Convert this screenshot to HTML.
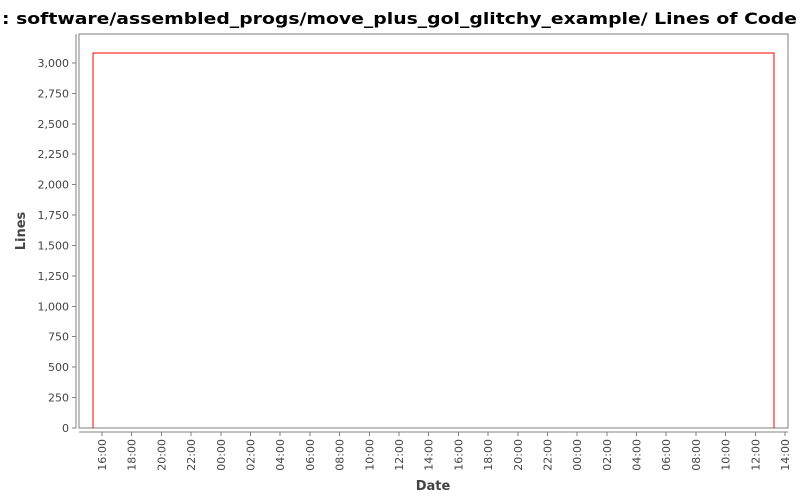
<!DOCTYPE html>
<html><head><meta charset="utf-8"><style>
html,body{margin:0;padding:0;background:#fff;width:800px;height:500px;overflow:hidden}
svg{display:block}
text{font-family:"DejaVu Sans","Liberation Sans",sans-serif}
line,rect,path{shape-rendering:crispEdges}
</style></head><body>
<svg id="chart" width="800" height="500">
<text x="2" y="24" font-size="16" font-weight="bold" textLength="795" lengthAdjust="spacingAndGlyphs" fill="#000">: software/assembled_progs/move_plus_gol_glitchy_example/ Lines of Code</text>
<rect x="79" y="34" width="709" height="394" fill="#fff" stroke="#808080" stroke-width="1"/>
<g id="yaxis"></g>
<g id="xaxis"></g>
<g id="series"></g>
<text x="0" y="0" font-size="13" font-weight="bold" fill="#444" transform="translate(25,231) rotate(-90)" text-anchor="middle">Lines</text>
<text x="433" y="490" font-size="13" font-weight="bold" fill="#444" text-anchor="middle">Date</text>
</svg>
<script>
const yTicks=[0,250,500,750,1000,1250,1500,1750,2000,2250,2500,2750,3000];
const xTickHours=[16,18,20,22,24,26,28,30,32,34,36,38,40,42,44,46,48,50,52,54,56,58,60,62];
const xTickLabels=["16:00","18:00","20:00","22:00","00:00","02:00","04:00","06:00","08:00","10:00","12:00","14:00","16:00","18:00","20:00","22:00","00:00","02:00","04:00","06:00","08:00","10:00","12:00","14:00"];
const seriesTimes=[15.4,61.25];
const seriesValues=[3082,3082];
const NS="http://www.w3.org/2000/svg";
const X0=79,X1=788,Y0=428,Y1=34;
const xMin=14.45,xMax=62.2,yMin=0,yMax=3238;
function sx(h){return X0+(h-xMin)/(xMax-xMin)*(X1-X0);}
function sy(v){return Y0-(v-yMin)/(yMax-yMin)*(Y0-Y1);}
function mk(tag,attrs,parent){const e=document.createElementNS(NS,tag);for(const k in attrs)e.setAttribute(k,attrs[k]);parent.appendChild(e);return e;}
const ya=document.getElementById('yaxis');
mk('line',{x1:76,y1:Y1,x2:76,y2:Y0,stroke:'#808080'},ya);
yTicks.forEach(v=>{const y=sy(v);
 mk('line',{x1:72,y1:y,x2:76,y2:y,stroke:'#808080'},ya);
 const t=mk('text',{x:69,y:y+4,'font-size':11,'text-anchor':'end',fill:'#444'},ya);
 t.textContent=v.toLocaleString('en-US');
 
 
});
const xa=document.getElementById('xaxis');
mk('line',{x1:X0,y1:432,x2:X1,y2:432,stroke:'#808080'},xa);
xTickHours.forEach((h,i)=>{const x=sx(h);
 mk('line',{x1:x,y1:432,x2:x,y2:436,stroke:'#808080'},xa);
 const t=mk('text',{x:0,y:0,'font-size':11,'text-anchor':'end',fill:'#444',transform:`translate(${x+4},439) rotate(-90)`},xa);
 t.textContent=xTickLabels[i];
 
 
});
const sg=document.getElementById('series');
let d=`M${sx(seriesTimes[0])},${sy(0)}`;
seriesTimes.forEach((h,i)=>{d+=` L${sx(h)},${sy(seriesValues[i])}`;});
d+=` L${sx(seriesTimes[seriesTimes.length-1])},${sy(0)}`;
const p=mk('path',{d:d,fill:'none',stroke:'#ff0000','stroke-width':1},sg);


</script>
</body></html>
